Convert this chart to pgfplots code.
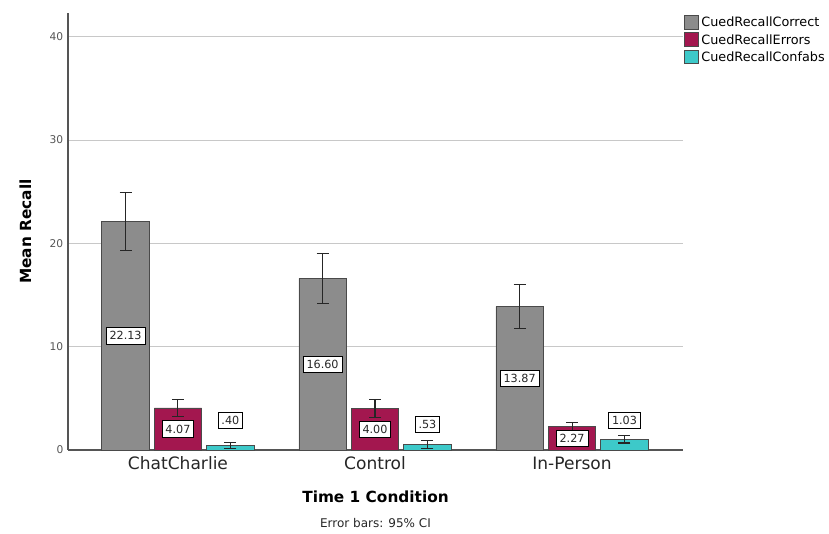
\documentclass[border=0pt]{standalone}
\usepackage{pgfplots}
\pgfplotsset{compat=1.18}
\usepackage{pgfplotstable}
\usepackage{fontspec}
\setmainfont{DejaVu Sans}

\definecolor{barGray}{HTML}{8C8C8C}
\definecolor{barRed}{HTML}{A3174F}
\definecolor{barCyan}{HTML}{3DC9C9}
\definecolor{edgeCol}{HTML}{4A4A4A}
\definecolor{gridCol}{HTML}{C8C8C8}
\definecolor{tickCol}{HTML}{555555}

% x: condition index, y: mean, e: half-width of 95% CI, ly: label height, lab: printed value
\pgfplotstableread{
x y e ly lab
0 22.13 2.80 11.07 22.13
1 16.60 2.40 8.30 16.60
2 13.87 2.15 6.93 13.87
}\correct
\pgfplotstableread{
x y e ly lab
0 4.07 0.85 2.03 4.07
1 4.00 0.90 2.00 4.00
2 2.27 0.40 1.13 2.27
}\errors
\pgfplotstableread{
x y e ly lab
0 0.40 0.30 2.85 .40
1 0.53 0.35 2.47 .53
2 1.03 0.35 2.87 1.03
}\confabs

\begin{document}
\begin{tikzpicture}
\begin{axis}[
  at={(0,0)}, anchor=south west,
  scale only axis,
  width=461.25pt, height=327.75pt,
  xmin=-0.558, xmax=2.563,
  ymin=0, ymax=42.3,
  axis x line*=bottom, axis y line*=left,
  axis line style={draw=tickCol, line width=0.8pt, -},
  xtick={0,1,2},
  xticklabels={ChatCharlie,Control,In-Person},
  ytick={0,10,20,30,40},
  major tick length=0pt,
  ymajorgrids,
  grid style={gridCol, line width=0.7pt},
  tick label style={/pgf/number format/assume math mode=true},
  xticklabel style={font=\fontsize{12.8}{15}\selectfont, text=black!85, yshift=-1.5pt},
  yticklabel style={font=\fontsize{8}{10}\selectfont, text=tickCol},
  xlabel={\textbf{Time 1 Condition}},
  xlabel style={font=\fontsize{11.5}{14}\selectfont, at={(rel axis cs:0.5,0)}, anchor=center, yshift=-35.25pt},
  ylabel={\textbf{Mean Recall}},
  ylabel style={font=\fontsize{11.5}{14}\selectfont, at={(rel axis cs:0,0.5)}, anchor=center, yshift=32pt},
  legend style={draw=none, fill=none, at={(rel axis cs:1,1)}, anchor=north west,
    xshift=0.5pt, yshift=-1pt, inner sep=0pt, row sep=0pt,
    font=\fontsize{9.6}{11.5}\selectfont},
  legend cell align=left,
  legend image code/.code={\draw[#1, line width=0.6pt] (0pt,-4.8pt) rectangle (10.5pt,5.5pt);},
  clip=false,
  error bars/error bar style={line width=0.8pt, draw=black!85},
  error bars/error mark options={rotate=90, mark size=4.5pt, line width=0.8pt, draw=black!85},
  bar style/.style={ybar, bar width=0.24, bar shift=0, draw=edgeCol, line width=0.6pt,
    error bars/y dir=both, error bars/y explicit},
  value label/.style={forget plot, only marks, mark=none,
    nodes near coords, point meta=explicit symbolic,
    every node near coord/.style={anchor=center, draw=black, line width=0.5pt, fill=white,
      text=black!85, inner xsep=2.5pt, inner ysep=3pt, font=\fontsize{8.4}{9}\selectfont}},
]
% bars placed at condition index plus a fixed offset per series
\addplot[bar style, fill=barGray]
  table[x expr=\thisrow{x}-0.266, y=y, y error=e] {\correct};
\addlegendentry{CuedRecallCorrect}
\addplot[bar style, fill=barRed]
  table[x=x, y=y, y error=e] {\errors};
\addlegendentry{CuedRecallErrors}
\addplot[bar style, fill=barCyan]
  table[x expr=\thisrow{x}+0.266, y=y, y error=e] {\confabs};
\addlegendentry{CuedRecallConfabs}

\addplot[value label] table[x expr=\thisrow{x}-0.266, y=ly, meta=lab] {\correct};
\addplot[value label] table[x=x, y=ly, meta=lab] {\errors};
\addplot[value label] table[x expr=\thisrow{x}+0.266, y=ly, meta=lab] {\confabs};

\node[font=\fontsize{9}{11}\selectfont, text=black!85] at (rel axis cs:0.5,0) [yshift=-54.75pt] {Error bars: 95\% CI};
\end{axis}
% page extent
\path (-51pt,-63pt) rectangle (570.75pt,337.5pt);
\end{tikzpicture}
\end{document}
